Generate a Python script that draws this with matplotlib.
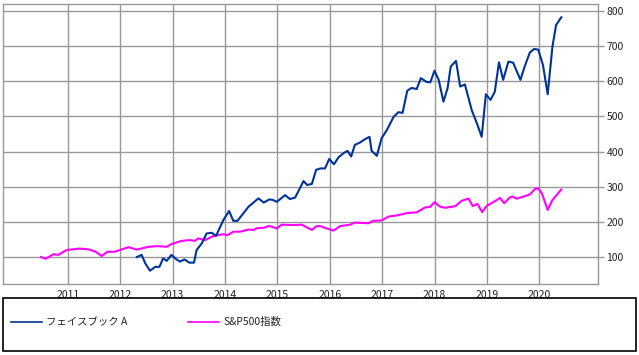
import matplotlib
matplotlib.use("Agg")
import matplotlib.pyplot as plt
from matplotlib.lines import Line2D
from matplotlib.patches import Rectangle

plt.rcParams['font.family'] = ['Noto Sans CJK JP', 'DejaVu Sans']

# ---- data (decimal years, index values) ----
sp_t = [2010.49, 2010.58, 2010.73, 2010.82, 2010.98, 2011.23, 2011.39, 2011.52, 2011.65,
        2011.76, 2011.90, 2012.16, 2012.32, 2012.54, 2012.70, 2012.89, 2012.98, 2013.18,
        2013.33, 2013.43, 2013.49, 2013.62, 2013.78, 2013.98, 2014.05, 2014.16, 2014.29,
        2014.45, 2014.55, 2014.61, 2014.74, 2014.83, 2014.90, 2014.99, 2015.08, 2015.31,
        2015.47, 2015.53, 2015.66, 2015.75, 2015.82, 2015.91, 2016.07, 2016.20, 2016.39,
        2016.48, 2016.74, 2016.83, 2016.99, 2017.12, 2017.31, 2017.47, 2017.66, 2017.82,
        2017.92, 2018.00, 2018.11, 2018.21, 2018.40, 2018.52, 2018.65, 2018.73, 2018.82,
        2018.91, 2019.00, 2019.12, 2019.25, 2019.33, 2019.44, 2019.49, 2019.57, 2019.70,
        2019.82, 2019.92, 2019.98, 2020.05, 2020.16, 2020.25, 2020.42]
sp_v = [100, 95, 108, 106, 120, 124, 122, 116, 103,
        115, 115, 128, 121, 129, 131, 129, 137, 146,
        148, 146, 153, 148, 160, 165, 162, 172, 172,
        178, 177, 182, 183, 188, 186, 181, 192, 191,
        192, 187, 177, 188, 188, 183, 175, 188, 192,
        198, 196, 203, 204, 215, 219, 225, 227, 241,
        243, 256, 243, 240, 245, 260, 266, 245, 251,
        228, 246, 256, 268, 253, 270, 272, 266, 272,
        278, 294, 295, 281, 234, 262, 292]

fb_t = [2012.32, 2012.41, 2012.48, 2012.57, 2012.67, 2012.75, 2012.82, 2012.89, 2012.98,
        2013.06, 2013.14, 2013.23, 2013.32, 2013.41, 2013.46, 2013.56, 2013.65, 2013.75,
        2013.83, 2013.97, 2014.08, 2014.16, 2014.24, 2014.45, 2014.64, 2014.74, 2014.85,
        2014.92, 2014.99, 2015.15, 2015.24, 2015.34, 2015.50, 2015.57, 2015.66, 2015.74,
        2015.82, 2015.91, 2015.99, 2016.08, 2016.17, 2016.26, 2016.34, 2016.41, 2016.48,
        2016.58, 2016.67, 2016.76, 2016.80, 2016.90, 2016.99, 2017.09, 2017.22, 2017.31,
        2017.39, 2017.48, 2017.56, 2017.66, 2017.74, 2017.85, 2017.92, 2018.00, 2018.08,
        2018.17, 2018.25, 2018.31, 2018.41, 2018.49, 2018.58, 2018.71, 2018.81, 2018.90,
        2018.98, 2019.07, 2019.15, 2019.23, 2019.31, 2019.41, 2019.50, 2019.64, 2019.72,
        2019.82, 2019.90, 2019.98, 2020.07, 2020.16, 2020.25, 2020.32, 2020.42]
fb_v = [100, 106, 82, 61, 72, 72, 96, 89, 106,
        95, 87, 93, 84, 84, 120, 139, 167, 169,
        160, 205, 231, 203, 203, 243, 267, 255, 264,
        262, 257, 276, 265, 269, 316, 305, 308, 348,
        352, 352, 379, 364, 384, 395, 402, 386, 419,
        426, 435, 442, 402, 388, 438, 461, 499, 512,
        510, 573, 581, 578, 609, 598, 597, 630, 604,
        542, 581, 642, 658, 585, 591, 518, 480, 442,
        563, 547, 570, 654, 604, 656, 653, 604, 642,
        682, 692, 690, 646, 563, 698, 760, 782]

years = list(range(2011, 2021))
yticks = [100, 200, 300, 400, 500, 600, 700, 800]
names = ['フェイスブック A', 'S&P500指数']
colors = ['#003399', '#FF00FF']

W, H = 639, 355
fig = plt.figure(figsize=(W / 100, H / 100), dpi=100)
ax = fig.add_axes([3 / W, 1 - 284 / H, (598 - 3) / W, (284 - 4) / H])

ax.plot(fb_t, fb_v, color=colors[0], lw=1.5, zorder=3)
ax.plot(sp_t, sp_v, color=colors[1], lw=1.5, zorder=2)

ax.set_xlim(2009.765, 2021.12)
ax.set_ylim(23.2, 819.9)
ax.set_xticks(years)
ax.set_xticklabels([str(y) for y in years], fontsize=7.5)
ax.set_yticks(yticks)
ax.set_yticklabels([str(v) for v in yticks], fontsize=7.5)
ax.yaxis.tick_right()
ax.tick_params(axis='y', length=4, color='#999999', width=1, pad=2, labelcolor='#222222')
ax.tick_params(axis='x', length=0, pad=4, labelcolor='#222222')
ax.grid(True, color='#999999', lw=1)
ax.set_axisbelow(True)
for s in ax.spines.values():
    s.set_color('#999999')
    s.set_linewidth(1)

# legend box
fig.add_artist(Rectangle((3 / W, 1 - 351 / H), (636 - 3) / W, (351 - 298) / H,
                         transform=fig.transFigure, fill=False, edgecolor='black', lw=1.2))
ly = 1 - 322 / H
for (x0, x1, tx), name, c in zip([(11, 42, 46), (188, 219, 223)], names, colors):
    fig.add_artist(Line2D([x0 / W, x1 / W], [ly, ly], transform=fig.transFigure, color=c, lw=1.2))
    fig.text(tx / W, ly, name, fontsize=7.5, va='center', ha='left', color='#222222')

fig.savefig('out.png', dpi=100)
